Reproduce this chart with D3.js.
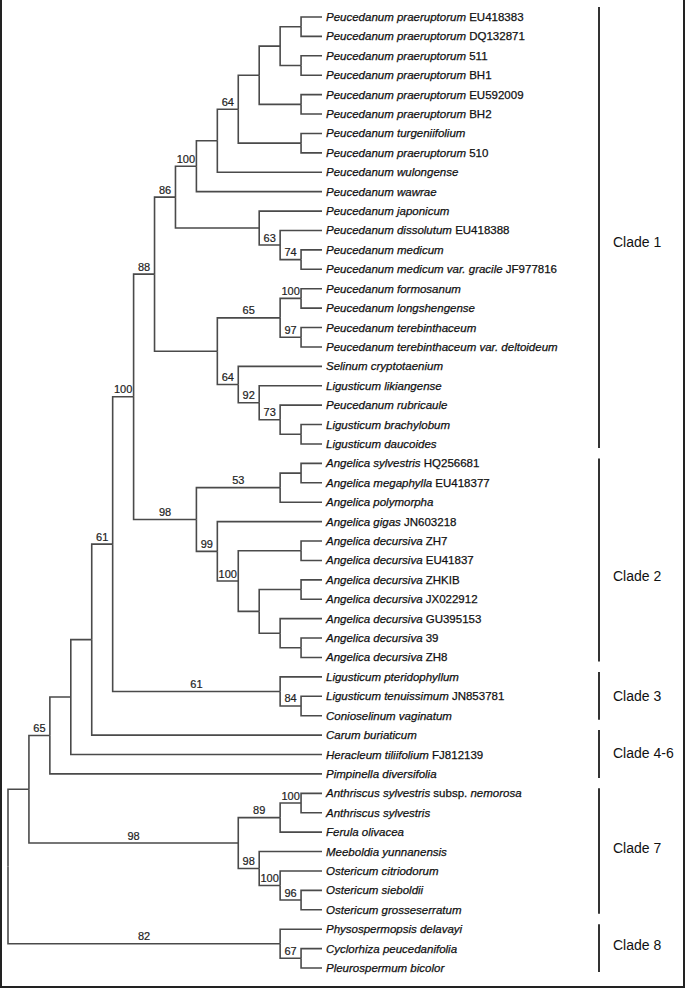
<!DOCTYPE html>
<html>
<head>
<meta charset="utf-8">
<script src="https://cdn.jsdelivr.net/npm/d3@7"></script>
<style>
  html, body { margin: 0; padding: 0; background: #fff; }
  svg { display: block; font-family: "Liberation Sans", Arial, sans-serif; }
  .branch { fill: none; stroke: #4a4a4a; stroke-width: 1.6; }
  .support { font-size: 11px; fill: #222; stroke: #222; stroke-width: 0.2; text-anchor: middle; }
  .taxon { font-size: 11.5px; fill: #111; stroke: #111; stroke-width: 0.25; }
  .clade-bar { stroke: #333; stroke-width: 2; }
  .clade-label { font-size: 14px; fill: #111; }
</style>
</head>
<body>
<div id="tree"></div>
<script>
// taxa, top to bottom; *...* = italic
const taxa = [
  '*Peucedanum praeruptorum* EU418383',
  '*Peucedanum praeruptorum* DQ132871',
  '*Peucedanum praeruptorum* 511',
  '*Peucedanum praeruptorum* BH1',
  '*Peucedanum praeruptorum* EU592009',
  '*Peucedanum praeruptorum* BH2',
  '*Peucedanum turgeniifolium*',
  '*Peucedanum praeruptorum* 510',
  '*Peucedanum wulongense*',
  '*Peucedanum wawrae*',
  '*Peucedanum japonicum*',
  '*Peucedanum dissolutum* EU418388',
  '*Peucedanum medicum*',
  '*Peucedanum medicum var. gracile* JF977816',
  '*Peucedanum formosanum*',
  '*Peucedanum longshengense*',
  '*Peucedanum terebinthaceum*',
  '*Peucedanum terebinthaceum var. deltoideum*',
  '*Selinum cryptotaenium*',
  '*Ligusticum likiangense*',
  '*Peucedanum rubricaule*',
  '*Ligusticum brachylobum*',
  '*Ligusticum daucoides*',
  '*Angelica sylvestris* HQ256681',
  '*Angelica megaphylla* EU418377',
  '*Angelica polymorpha*',
  '*Angelica gigas* JN603218',
  '*Angelica decursiva* ZH7',
  '*Angelica decursiva* EU41837',
  '*Angelica decursiva* ZHKIB',
  '*Angelica decursiva* JX022912',
  '*Angelica decursiva* GU395153',
  '*Angelica decursiva* 39',
  '*Angelica decursiva* ZH8',
  '*Ligusticum pteridophyllum*',
  '*Ligusticum tenuissimum* JN853781',
  '*Conioselinum vaginatum*',
  '*Carum buriaticum*',
  '*Heracleum tiliifolium* FJ812139',
  '*Pimpinella diversifolia*',
  '*Anthriscus sylvestris* subsp. *nemorosa*',
  '*Anthriscus sylvestris*',
  '*Ferula olivacea*',
  '*Meeboldia yunnanensis*',
  '*Ostericum citriodorum*',
  '*Ostericum sieboldii*',
  '*Ostericum grosseserratum*',
  '*Physospermopsis delavayi*',
  '*Cyclorhiza peucedanifolia*',
  '*Pleurospermum bicolor*'
];

// topology (leaf = index in taxa), bootstrap after ')'
const clade1 = '((((((((0,1),(2,3)),(4,5)),(6,7))64,8),9)100,(10,(11,(12,13)74)63))86,(((14,15)100,(16,17)97)65,(18,(19,(20,(21,22))73)92)64))88';
const clade2 = '(((23,24),25)53,(26,((27,28),((29,30),(31,(32,33))))100)99)98';
const clade3 = '(34,(35,36)84)61';
const clade7 = '(((40,41)100,42)89,(43,(44,(45,46)96)100)98)98';
const clade8 = '(47,(48,49)67)82';
const newick = '(((((((' + clade1 + ',' + clade2 + ')100,' + clade3 + ')61,37),38),39)65,' + clade7 + '),' + clade8 + ');';

// clade brackets on the right
const cladeNames = ['Clade 1', 'Clade 2', 'Clade 3', 'Clade 4-6', 'Clade 7', 'Clade 8'];
const cladeFirst = [0, 23, 34, 37, 40, 47];
const cladeLast = [22, 33, 36, 39, 46, 49];
const cladeLabelRow = [11.6, 28.8, 35, 37.9, 42.8, 47.8];

const W = 686, H = 989;
const leafX = 322, textX = 326, barX = 599;

const parseNewick = (s) => {
  let i = 0;
  const node = () => {
    const n = {};
    if (s[i] === '(') {
      i++;
      n.children = [];
      do { n.children.push(node()); } while (s[i++] === ',');
    }
    let lab = '';
    while (i < s.length && !',);'.includes(s[i])) lab += s[i++];
    if (n.children) { if (lab) n.support = lab; } else n.leaf = +lab;
    return n;
  };
  return node();
};

const root = d3.hierarchy(parseNewick(newick));

const y = d3.scaleLinear().domain([0, taxa.length - 1]).range([17, 968]);
const x = d3.scaleLinear().domain([0, root.height]).range([leafX, 8]);

root.eachAfter((d) => {
  d.px = x(d.height);
  if (d.children) {
    d.py = (d.children[0].py + d.children[d.children.length - 1].py) / 2;
  } else {
    d.py = y(d.data.leaf);
  }
});

const svg = d3.select('#tree').append('svg')
  .attr('width', W)
  .attr('height', H)
  .attr('viewBox', `0 0 ${W} ${H}`);

// frame
svg.append('path')
  .attr('d', `M1,0V${H - 2}H${W - 2}V0`)
  .attr('fill', 'none')
  .attr('stroke', '#222')
  .attr('stroke-width', 2);

// branches
const gB = svg.append('g').attr('class', 'branches');
root.links().forEach((l) => {
  gB.append('path')
    .attr('class', 'branch')
    .attr('d', `M${l.source.px},${l.source.py}V${l.target.py}H${l.target.px}`);
});

// support values, centred over the branch leading to the node
const gS = svg.append('g').attr('class', 'supports');
root.descendants().filter(d => d.data.support && d.parent).forEach((d) => {
  gS.append('text')
    .attr('class', 'support')
    .attr('x', (d.parent.px + d.px) / 2)
    .attr('y', d.py - 3.5)
    .text(d.data.support);
});

// taxon labels
const gT = svg.append('g').attr('class', 'taxa');
root.leaves().forEach((d) => {
  const t = gT.append('text')
    .attr('class', 'taxon')
    .attr('x', textX)
    .attr('y', d.py + 4);
  taxa[d.data.leaf].split('*').forEach((part, k) => {
    if (!part) return;
    t.append('tspan')
      .attr('font-style', k % 2 ? 'italic' : 'normal')
      .text(part);
  });
});

// clade bars
const gC = svg.append('g').attr('class', 'clades');
cladeNames.forEach((c, i) => {
  gC.append('line')
    .attr('class', 'clade-bar')
    .attr('x1', barX)
    .attr('x2', barX)
    .attr('y1', y(cladeFirst[i]) - (i === 0 ? 10 : 5))
    .attr('y2', y(cladeLast[i]) + 4);
  gC.append('text')
    .attr('class', 'clade-label')
    .attr('x', barX + 14)
    .attr('y', y(cladeLabelRow[i]) + 5)
    .text(c);
});
</script>
</body>
</html>
